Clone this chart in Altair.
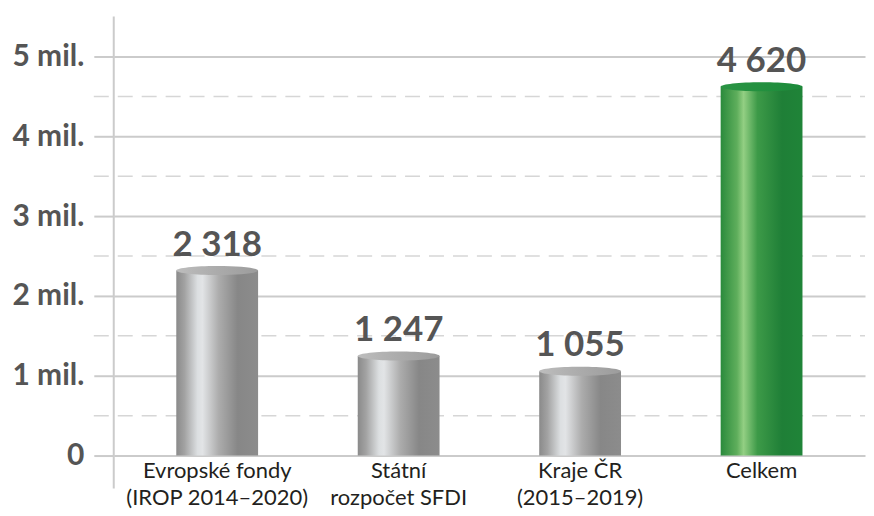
import altair as alt
import pandas as pd

# --- data ---
categories = ["Evropské fondy\n(IROP 2014–2020)", "Státní\nrozpočet SFDI", "Kraje ČR\n(2015–2019)", "Celkem"]
values = [2318, 1247, 1055, 4620]          # thousands (mil. Kč axis)
value_labels = ["2 318", "1 247", "1 055", "4 620"]
kinds = ["part", "part", "part", "total"]
major_ticks = [0, 1000, 2000, 3000, 4000, 5000]
minor_ticks = [500, 1500, 2500, 3500, 4500]

df = pd.DataFrame({"cat": categories, "value": values, "label": value_labels, "kind": kinds})
minor_df = pd.DataFrame({"value": minor_ticks})

W, H = 753, 440
BAR_W = 82
GRID = "#cbcbcb"

xscale = alt.Scale(domain=categories, paddingInner=0, paddingOuter=0.07)
yscale = alt.Scale(domain=[0, 5500], nice=False)

x_enc = alt.X("cat:N", scale=xscale, sort=categories, title=None,
              axis=alt.Axis(labelAngle=0, ticks=False, domain=False, labelPadding=5, labelLimit=0,
                            labelFont="Lato", labelFontSize=22, labelColor="#231f20",
                            labelLineHeight=27, labelBaseline="top",
                            labelExpr="split(datum.label, '\\n')"))
y_axis = alt.Axis(values=major_ticks, domain=False, grid=True, gridColor=GRID, gridWidth=2,
                  ticks=True, tickSize=20, tickColor=GRID, tickWidth=2, labelPadding=10,
                  labelFont="Lato", labelFontSize=30, labelFontWeight="bold",
                  labelColor="#555555",
                  labelExpr="datum.value == 0 ? '0' : format(datum.value / 1000, 'd') + ' mil.'")
y_enc = alt.Y("value:Q", scale=yscale, title=None, axis=y_axis)

gray_grad = alt.Gradient(gradient="linear", x1=0, x2=1, y1=0, y2=0, stops=[
    alt.GradientStop(color="#8a8a8a", offset=0),
    alt.GradientStop(color="#a2a2a2", offset=0.1),
    alt.GradientStop(color="#dcdfe1", offset=0.26),
    alt.GradientStop(color="#e2e4e6", offset=0.32),
    alt.GradientStop(color="#acacac", offset=0.52),
    alt.GradientStop(color="#878787", offset=0.75),
    alt.GradientStop(color="#8c8c8c", offset=1)])
gray_top = alt.Gradient(gradient="linear", x1=0, x2=1, y1=0, y2=0, stops=[
    alt.GradientStop(color="#bdbdbd", offset=0),
    alt.GradientStop(color="#ababab", offset=0.5),
    alt.GradientStop(color="#9c9c9c", offset=1)])
green_grad = alt.Gradient(gradient="linear", x1=0, x2=1, y1=0, y2=0, stops=[
    alt.GradientStop(color="#2a8a3c", offset=0),
    alt.GradientStop(color="#5fae5c", offset=0.2),
    alt.GradientStop(color="#93cf83", offset=0.28),
    alt.GradientStop(color="#3d9a48", offset=0.45),
    alt.GradientStop(color="#1f7f37", offset=0.75),
    alt.GradientStop(color="#1f8438", offset=1)])
green_top = alt.Gradient(gradient="linear", x1=0, x2=1, y1=0, y2=0, stops=[
    alt.GradientStop(color="#2a9444", offset=0),
    alt.GradientStop(color="#23903f", offset=0.5),
    alt.GradientStop(color="#1c8a3a", offset=1)])

ellipse = "M -1 0 A 1 0.11 0 1 1 1 0 A 1 0.11 0 1 1 -1 0 Z"

base = alt.Chart(df).encode(x=x_enc)

minor_grid = alt.Chart(minor_df).mark_rule(color="#d6d6d6", strokeWidth=1.5, strokeDash=[15, 9]).encode(
    y=y_enc, x=alt.value(-20), x2=alt.value(W))

axis_line = alt.Chart(minor_df.head(1)).mark_rule(color=GRID, strokeWidth=2).encode(
    x=alt.value(0), y=alt.value(0), y2=alt.value(H + 33))

bars_gray = base.transform_filter("datum.kind == 'part'").mark_bar(
    width=BAR_W, color=gray_grad, cornerRadius=0).encode(y=y_enc)
bars_green = base.transform_filter("datum.kind == 'total'").mark_bar(
    width=BAR_W, color=green_grad).encode(y=y_enc)

tops_gray = base.transform_filter("datum.kind == 'part'").mark_point(
    shape=ellipse, size=BAR_W * BAR_W, filled=True, fill=gray_top, strokeWidth=0, opacity=1).encode(
    y=y_enc)
tops_green = base.transform_filter("datum.kind == 'total'").mark_point(
    shape=ellipse, size=BAR_W * BAR_W, filled=True, fill=green_top, strokeWidth=0, opacity=1).encode(
    y=y_enc)

texts = base.mark_text(font="Lato", fontSize=35, fontWeight="bold", color="#555555",
                       baseline="alphabetic", dy=-15).encode(
    y=y_enc, text="label:N")

chart = alt.layer(minor_grid, bars_gray, bars_green, tops_gray, tops_green, texts, axis_line).properties(
    width=W, height=H, background="white",
    padding={"left": 3, "top": 7, "right": 0, "bottom": 0},
    view=alt.ViewBackground(stroke="transparent", strokeWidth=0)
).configure_view(strokeWidth=0, stroke="transparent")

chart.save("out.html", embed_options={"renderer": "svg", "actions": False})
